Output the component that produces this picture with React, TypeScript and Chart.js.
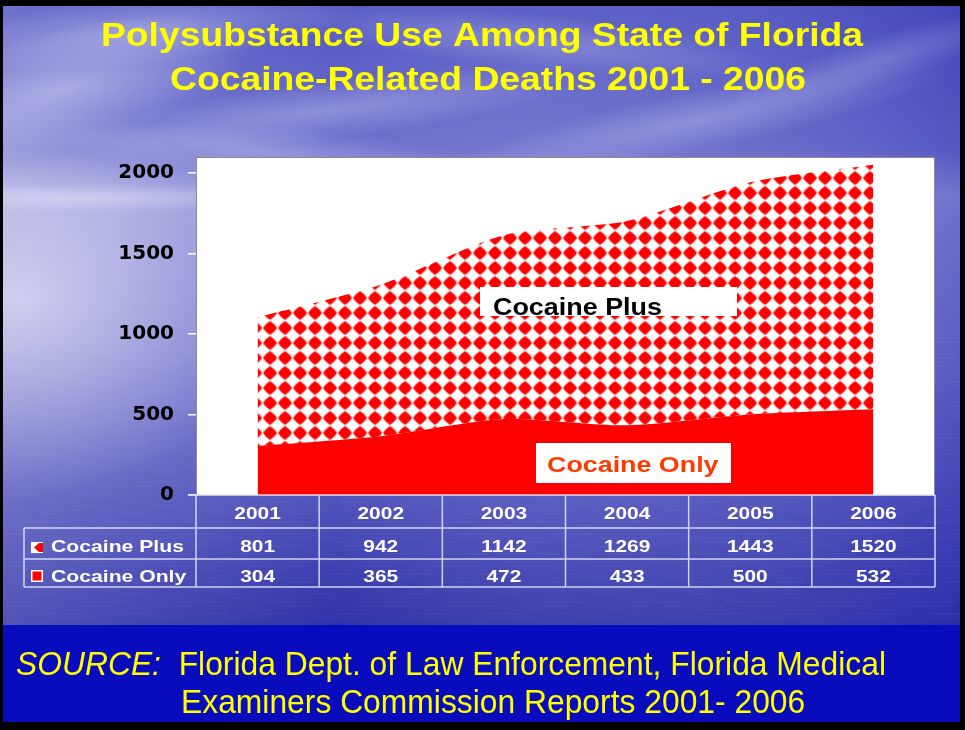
import React, { useEffect, useRef } from "react";
import { Chart, registerables } from "chart.js";

Chart.register(...registerables);

// ---------- data ----------
const years = ["2001", "2002", "2003", "2004", "2005", "2006"];
const cocainePlus = [801, 942, 1142, 1269, 1443, 1520];
const cocaineOnly = [304, 365, 472, 433, 500, 532];
const yTicks = [0, 500, 1000, 1500, 2000];
const seriesNames = ["Cocaine Plus", "Cocaine Only"];
const titleLines = [
  "Polysubstance Use Among State of Florida",
  "Cocaine-Related Deaths 2001 - 2006",
];
const sourceLabel = "SOURCE:";
const sourceLines = [
  "  Florida Dept. of Law Enforcement, Florida Medical",
  "Examiners Commission Reports 2001- 2006",
];

// ---------- helpers ----------
function makePattern(ctx: CanvasRenderingContext2D) {
  const c = document.createElement("canvas");
  c.width = 15;
  c.height = 15;
  const p = c.getContext("2d")!;
  p.fillStyle = "#ffffff";
  p.fillRect(0, 0, 15, 15);
  p.fillStyle = "#ff0000";
  const cx = 7.5, cy = 7.5, r = 7, k = 4.3;
  p.beginPath();
  p.moveTo(cx, cy - r);
  p.quadraticCurveTo(cx + k, cy - k, cx + r, cy);
  p.quadraticCurveTo(cx + k, cy + k, cx, cy + r);
  p.quadraticCurveTo(cx - k, cy + k, cx - r, cy);
  p.quadraticCurveTo(cx - k, cy - k, cx, cy - r);
  p.fill();
  const pat = ctx.createPattern(c, "repeat")!;
  try {
    pat.setTransform(new DOMMatrix().translate(-7.5, 5.5));
  } catch (e) {}
  return pat;
}

function stretchText(
  ctx: CanvasRenderingContext2D,
  text: string,
  x: number,
  y: number,
  font: string,
  color: string,
  sx: number,
  align: "left" | "center" | "right" = "left"
) {
  ctx.save();
  ctx.font = font;
  ctx.fillStyle = color;
  ctx.textBaseline = "alphabetic";
  ctx.textAlign = "left";
  const w = ctx.measureText(text).width * sx;
  const left = align === "center" ? x - w / 2 : align === "right" ? x - w : x;
  ctx.translate(left, y);
  ctx.scale(sx, 1);
  ctx.fillText(text, 0, 0);
  ctx.restore();
  return w;
}

function fitSx(ctx: CanvasRenderingContext2D, text: string, font: string, target: number) {
  ctx.save();
  ctx.font = font;
  const w = ctx.measureText(text).width;
  ctx.restore();
  return target / w;
}

function cloud(
  ctx: CanvasRenderingContext2D,
  x: number,
  y: number,
  rx: number,
  ry: number,
  rot: number,
  a: number
) {
  ctx.save();
  ctx.translate(x, y);
  ctx.rotate(rot);
  ctx.scale(rx, ry);
  const g = ctx.createRadialGradient(0, 0, 0, 0, 0, 1);
  g.addColorStop(0, `rgba(235,235,255,${a})`);
  g.addColorStop(1, "rgba(235,235,255,0)");
  ctx.fillStyle = g;
  ctx.beginPath();
  ctx.arc(0, 0, 1, 0, Math.PI * 2);
  ctx.fill();
  ctx.restore();
}

const clouds: [number, number, number, number, number, number][] = [
  [60, 90, 200, 60, -0.25, 0.45],
  [140, 30, 220, 35, -0.1, 0.35],
  [330, 110, 260, 30, -0.12, 0.3],
  [520, 40, 260, 28, 0.1, 0.25],
  [700, 120, 260, 30, -0.2, 0.28],
  [880, 60, 160, 25, -0.3, 0.22],
  [250, 150, 200, 25, 0.05, 0.3],
  [80, 198, 260, 14, 0, 0.4],
];

function drawBackground(ctx: CanvasRenderingContext2D, W: number, H: number) {
  ctx.save();
  ctx.fillStyle = "#000000";
  ctx.fillRect(0, 0, W, H);
  const L = 3, T = 6, R = 960, B = 722;
  ctx.beginPath();
  ctx.rect(L, T, R - L, B - T);
  ctx.clip();
  const g = ctx.createLinearGradient(0, T, 0, 625);
  g.addColorStop(0, "rgb(82,86,194)");
  g.addColorStop(0.23, "rgb(108,110,204)");
  g.addColorStop(0.305, "rgb(150,150,220)");
  g.addColorStop(0.36, "rgb(140,140,216)");
  g.addColorStop(0.55, "rgb(120,120,208)");
  g.addColorStop(0.75, "rgb(88,90,192)");
  g.addColorStop(1, "rgb(48,50,168)");
  ctx.fillStyle = g;
  ctx.fillRect(L, T, R - L, B - T);

  // darker on the right, lighter on the left
  const h = ctx.createLinearGradient(L, 0, R, 0);
  h.addColorStop(0, "rgba(255,255,255,0.16)");
  h.addColorStop(0.35, "rgba(255,255,255,0)");
  h.addColorStop(1, "rgba(30,34,170,0.3)");
  ctx.fillStyle = h;
  ctx.fillRect(L, T, R - L, 620);

  // glow on the water at left
  ctx.save();
  ctx.translate(20, 300);
  ctx.scale(1, 0.8);
  const rg = ctx.createRadialGradient(0, 0, 0, 0, 0, 250);
  rg.addColorStop(0, "rgba(255,255,255,0.55)");
  rg.addColorStop(1, "rgba(255,255,255,0)");
  ctx.fillStyle = rg;
  ctx.fillRect(-30, -320, 300, 640);
  ctx.restore();

  for (const c of clouds) cloud(ctx, c[0], c[1], c[2], c[3], c[4], c[5]);

  // water streaks
  ctx.lineWidth = 1;
  for (let y = 330; y < 620; y += 4) {
    const off = (y * 37) % 70;
    const len = 20 + ((y * 13) % 40);
    ctx.strokeStyle = `rgba(220,220,255,${0.04 + ((y * 7) % 5) * 0.01})`;
    ctx.beginPath();
    for (let x = L - off; x < R; x += 70 + ((y * 11) % 30)) {
      ctx.moveTo(x, y);
      ctx.lineTo(x + len, y);
    }
    ctx.stroke();
  }

  // bottom band
  ctx.fillStyle = "rgb(8,12,188)";
  ctx.fillRect(L, 625, R - L, B - 625);
  ctx.restore();
}

export default function App() {
  const ref = useRef<HTMLCanvasElement>(null);

  useEffect(() => {
    document.body.style.margin = "0";
    const canvas = ref.current!;
    const ctx = canvas.getContext("2d")!;
    const pattern = makePattern(ctx);

    const slidePlugin = {
      id: "slide",
      beforeDraw(chart: any) {
        const c = chart.ctx as CanvasRenderingContext2D;
        const W = chart.width, H = chart.height;
        drawBackground(c, W, H);

        // title
        const tFont = "bold 33px 'Liberation Sans', Arial, sans-serif";
        const sx1 = fitSx(c, titleLines[0], tFont, 762);
        stretchText(c, titleLines[0], 482, 46, tFont, "#ffff00", sx1, "center");
        const sx2 = fitSx(c, titleLines[1], tFont, 636);
        stretchText(c, titleLines[1], 488, 90, tFont, "#ffff00", sx2, "center");

        // source
        const iFont = "italic 33px 'Liberation Sans', Arial, sans-serif";
        const nFont = "33px 'Liberation Sans', Arial, sans-serif";
        c.save();
        c.font = iFont;
        const wi = c.measureText(sourceLabel).width;
        c.font = nFont;
        const wn = c.measureText(sourceLines[0]).width;
        c.restore();
        const ssx = 870 / (wi + wn);
        stretchText(c, sourceLabel, 16, 675, iFont, "#ffff00", ssx, "left");
        stretchText(c, sourceLines[0], 16 + wi * ssx, 675, nFont, "#ffff00", ssx, "left");
        stretchText(c, sourceLines[1], 181, 713, nFont, "#ffff00", ssx, "left");

        // plot area
        const a = chart.chartArea;
        c.save();
        c.fillStyle = "#ffffff";
        c.fillRect(a.left, a.top, a.right - a.left, a.bottom - a.top);
        c.strokeStyle = "#8c8c8c";
        c.lineWidth = 1;
        c.strokeRect(a.left + 0.5, a.top + 0.5, a.right - a.left - 1, a.bottom - a.top);
        c.restore();
      },
      afterDatasetsDraw(chart: any) {
        const c = chart.ctx as CanvasRenderingContext2D;
        // in-plot labels
        c.save();
        c.fillStyle = "#ffffff";
        c.fillRect(480, 287, 257, 29);
        c.fillRect(536, 443, 195, 40);
        c.restore();
        stretchText(c, seriesNames[0], 493, 315, "bold 23px 'Liberation Sans', Arial, sans-serif", "#000000", 1.17, "left");
        stretchText(c, seriesNames[1], 547, 472, "bold 22px 'Liberation Sans', Arial, sans-serif", "#ff3a00", 1.22, "left");
      },
      afterDraw(chart: any) {
        const c = chart.ctx as CanvasRenderingContext2D;
        const a = chart.chartArea;
        const xs = chart.scales.x;
        const colW = (a.right - a.left) / years.length;
        const top = a.bottom;
        const rows = [top, top + 33, top + 64, top + 92];
        const legendLeft = 24;

        c.save();
        c.strokeStyle = "rgba(225,225,245,0.9)";
        c.lineWidth = 1.5;
        c.beginPath();
        c.moveTo(a.left - 8, rows[0]);
        c.lineTo(a.right, rows[0]);
        for (let r = 1; r < rows.length; r++) {
          c.moveTo(legendLeft, rows[r]);
          c.lineTo(a.right, rows[r]);
        }
        c.moveTo(legendLeft, rows[1]);
        c.lineTo(legendLeft, rows[3]);
        for (let i = 0; i <= years.length; i++) {
          const x = a.left + i * colW;
          c.moveTo(x, rows[0]);
          c.lineTo(x, rows[3]);
        }
        c.stroke();
        c.restore();

        const f = "bold 17px 'Liberation Sans', Arial, sans-serif";
        const sx = 1.23;
        years.forEach((y, i) => {
          const cx = xs.getPixelForValue(i);
          stretchText(c, y, cx, rows[0] + 24, f, "#ffffff", sx, "center");
          stretchText(c, String(cocainePlus[i]), cx, rows[1] + 24, f, "#ffffff", sx, "center");
          stretchText(c, String(cocaineOnly[i]), cx, rows[2] + 23, f, "#ffffff", sx, "center");
        });

        // legend keys
        c.save();
        c.fillStyle = "#ffffff";
        c.fillRect(31, rows[1] + 14, 12, 11);
        c.fillStyle = "#ff0000";
        c.beginPath();
        c.moveTo(34, rows[1] + 19.5);
        c.lineTo(39, rows[1] + 15);
        c.lineTo(43, rows[1] + 15);
        c.lineTo(43, rows[1] + 24);
        c.lineTo(39, rows[1] + 24);
        c.closePath();
        c.fill();
        c.fillStyle = "#ffffff";
        c.fillRect(31, rows[2] + 11, 12, 12);
        c.fillStyle = "#ff0000";
        c.fillRect(32.5, rows[2] + 12.5, 9, 9);
        c.restore();
        stretchText(c, seriesNames[0], 51, rows[1] + 24, f, "#ffffff", 1.245, "left");
        stretchText(c, seriesNames[1], 51, rows[2] + 23, f, "#ffffff", 1.245, "left");
      },
    };

    const chart = new Chart(ctx, {
      type: "line",
      data: {
        labels: years,
        datasets: [
          {
            label: seriesNames[1],
            data: cocaineOnly,
            backgroundColor: "#ff0000",
            borderColor: "rgba(0,0,0,0)",
            borderWidth: 0,
            pointRadius: 0,
            fill: "origin",
            tension: 0.25,
          },
          {
            label: seriesNames[0],
            data: cocainePlus,
            backgroundColor: pattern as any,
            borderColor: "rgba(0,0,0,0)",
            borderWidth: 0,
            pointRadius: 0,
            fill: "-1",
            tension: 0.25,
          },
        ],
      },
      options: {
        responsive: false,
        animation: false,
        devicePixelRatio: 1,
        events: [],
        layout: { padding: { left: 0, top: 157, right: 30, bottom: 235 } },
        plugins: {
          legend: { display: false },
          tooltip: { enabled: false },
          title: { display: false },
          filler: { propagate: false },
        },
        scales: {
          x: {
            type: "category",
            offset: true,
            display: false,
            stacked: true,
          },
          y: {
            stacked: true,
            min: 0,
            max: 2100,
            afterBuildTicks: (axis: any) => {
              axis.ticks = yTicks.map((v) => ({ value: v }));
            },
            afterFit: (axis: any) => {
              axis.width = 196;
            },
            ticks: {
              color: "#000000",
              padding: 14,
              callback: (v: any) => String(v),
              font: { family: "'DejaVu Sans', sans-serif", weight: "bold", size: 20 },
            },
            grid: {
              drawOnChartArea: false,
              drawTicks: true,
              tickLength: 8,
              color: "#ffffff",
              lineWidth: 1.5,
            },
            border: { display: false },
          },
        },
      },
      plugins: [slidePlugin],
    } as any);

    return () => chart.destroy();
  }, []);

  return (
    <div style={{ width: 965, height: 730 }}>
      <canvas ref={ref} width={965} height={730} style={{ display: "block", width: 965, height: 730 }} />
    </div>
  );
}
